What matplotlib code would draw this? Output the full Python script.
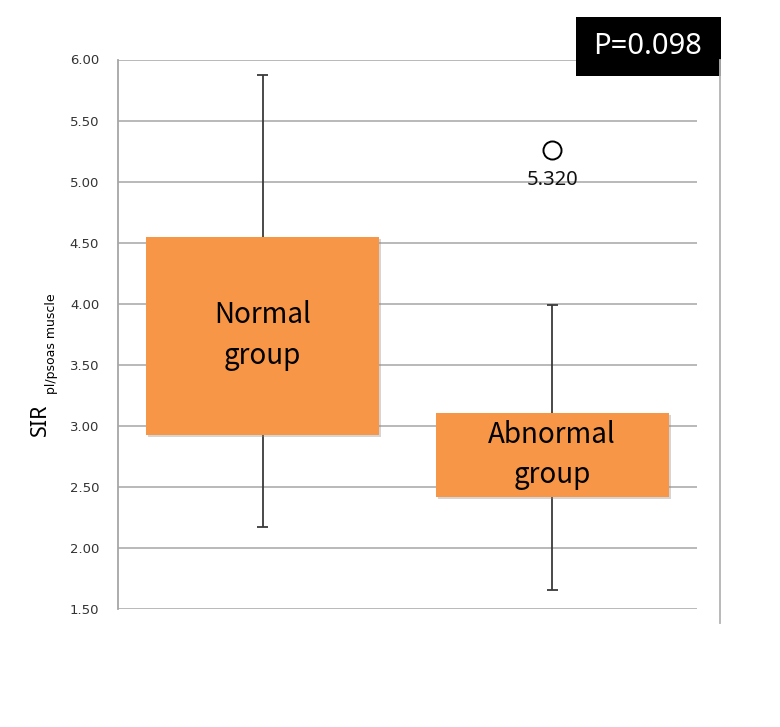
import matplotlib
matplotlib.use("Agg")
import matplotlib.pyplot as plt
from matplotlib import patheffects as pe
from matplotlib.lines import Line2D
from matplotlib.patches import Rectangle

# ---- data ----
groups = ["Normal\ngroup", "Abnormal\ngroup"]
q1 = [2.93, 2.42]
q3 = [4.55, 3.11]
whisker_low = [2.17, 1.66]
whisker_high = [5.87, 3.99]
outlier_x = [1]
outlier_y = [5.26]
outlier_label = ["5.320"]
p_text = "P=0.098"
yticks = [1.50, 2.00, 2.50, 3.00, 3.50, 4.00, 4.50, 5.00, 5.50, 6.00]

W, H = 780, 727
fig = plt.figure(figsize=(W / 100, H / 100), dpi=100)
ax = fig.add_axes([118 / W, 1 - 609.3 / H, (697 - 118) / W, (609.3 - 59.5) / H])

pos = [0.5, 1.5]
orange = "#F79646"
ax.set_xlim(0, 2)
ax.set_ylim(1.5, 6.0)

# grid
for t in yticks:
    ax.axhline(t, color="#b3b3b3", lw=1.3, zorder=0)

# whiskers
wc = "#3a3a3a"
ax.vlines(pos, whisker_low, whisker_high, color=wc, lw=1.3, zorder=1)
ax.hlines(whisker_low, [p - 0.019 for p in pos], [p + 0.019 for p in pos], color=wc, lw=1.3, zorder=1)
ax.hlines(whisker_high, [p - 0.019 for p in pos], [p + 0.019 for p in pos], color=wc, lw=1.3, zorder=1)

# boxes
heights = [b - a for a, b in zip(q1, q3)]
bars = ax.bar(pos, heights, bottom=q1, width=0.805, color=orange, zorder=2,
              edgecolor="none")
for b in bars:
    b.set_path_effects([pe.SimplePatchShadow(offset=(1.5, -1.5), shadow_rgbFace="#888888", alpha=0.35),
                        pe.Normal()])

for p, a, b, g in zip(pos, q1, q3, groups):
    ax.text(p, (a + b) / 2, g, ha="center", va="center", fontsize=20,
            family=["Noto Sans CJK JP", "DejaVu Sans"], color="black", zorder=3,
            linespacing=1.45)

# outlier
ax.plot([pos[i] for i in outlier_x], outlier_y, "o", ms=13, mfc="white", mec="black", mew=1.4, zorder=3)
for i, y, lab in zip(outlier_x, outlier_y, outlier_label):
    ax.text(pos[i], y - 0.165, lab, ha="center", va="top", fontsize=14.5,
            family=["Noto Sans", "DejaVu Sans"], color="#111111", zorder=3)

# axes styling
ax.set_yticks(yticks)
ax.set_yticklabels([f"{t:.2f}" for t in yticks], fontsize=9.5, color="#333333")
ax.tick_params(axis="y", length=0, pad=13.5)
ax.set_xticks([])
for s in ["top", "right", "bottom"]:
    ax.spines[s].set_visible(False)
ax.spines["left"].set_color("#a6a6a6")
ax.spines["left"].set_linewidth(1.3)

# y label
fig.text(40 / W, 1 - 420 / H, "SIR", rotation=90, ha="center", va="center", fontsize=15.5,
         family=["Noto Sans", "DejaVu Sans"])
fig.text(51.5 / W, 1 - 344 / H, "pl/psoas muscle", rotation=90, ha="center", va="center", fontsize=9,
         family=["DejaVu Sans"])

# right frame line
fig.add_artist(Line2D([720 / W, 720 / W], [1 - 622.5 / H, 1 - 60 / H], color="#b3b3b3", lw=1.3))

# P box
fig.add_artist(Rectangle((576 / W, 1 - 76 / H), (721 - 576) / W, (76 - 17) / H,
                         facecolor="black", edgecolor="none", transform=fig.transFigure))
fig.text(648 / W, 1 - 47 / H, p_text, ha="center", va="center", color="white", fontsize=21,
         family=["Noto Sans", "DejaVu Sans"])

fig.savefig("out.png", dpi=100, facecolor="white")
